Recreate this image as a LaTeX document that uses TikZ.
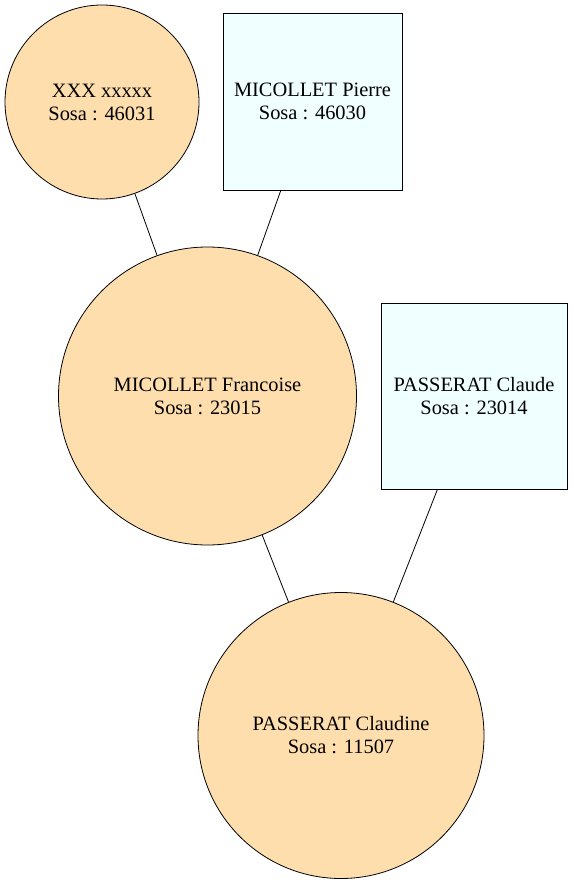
\documentclass[tikz,border=0pt]{standalone}
\usepackage{fontspec}
\setmainfont{Liberation Serif}
\definecolor{fem}{HTML}{FFDEAD}
\definecolor{masc}{HTML}{F0FFFF}
\begin{document}
\begin{tikzpicture}[x=1pt,y=-1pt,
  person/.style={draw=black,line width=0.8pt,align=center,inner sep=0pt,
    font=\fontsize{20.4}{23}\selectfont},
  femme/.style={person,circle,fill=fem},
  homme/.style={person,rectangle,fill=masc},
  lien/.style={draw=black,line width=0.8pt}]
\useasboundingbox (0,0) rectangle (573,885);
\node[femme,minimum size=194pt] (xxx) at (102,102) {XXX xxxxx\\Sosa : 46031};
\node[homme,minimum width=179pt,minimum height=177pt] (pierre) at (312.5,101.5) {MICOLLET Pierre\\Sosa : 46030};
\node[femme,minimum size=298pt] (francoise) at (207.5,396) {MICOLLET Francoise\\Sosa : 23015};
\node[homme,minimum width=186pt,minimum height=186pt] (claude) at (474,396) {PASSERAT Claude\\Sosa : 23014};
\node[femme,minimum size=286pt] (claudine) at (341,735.5) {PASSERAT Claudine\\Sosa : 11507};
\draw[lien] (xxx) -- (francoise);
\draw[lien] (pierre) -- (francoise);
\draw[lien] (francoise) -- (claudine);
\draw[lien] (claude) -- (claudine);
\end{tikzpicture}
\end{document}
